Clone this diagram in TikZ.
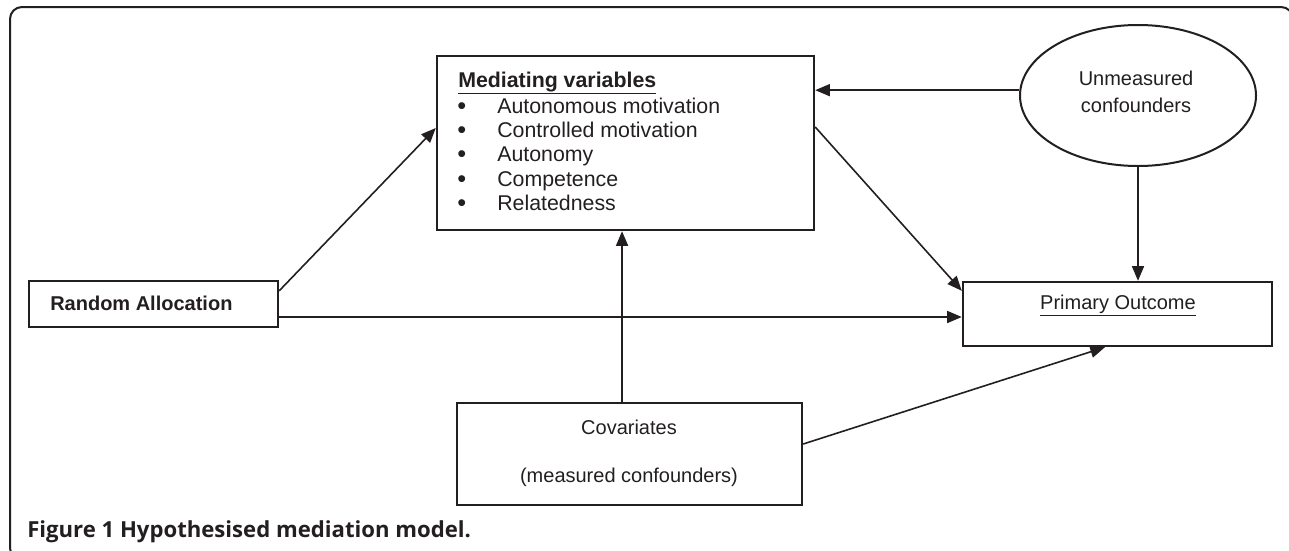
\documentclass[tikz,border=0pt]{standalone}
\usepackage{fontspec}
\setmainfont{Liberation Sans}
\newfontfamily\capfont{Open Sans}
\usetikzlibrary{arrows.meta,shapes.geometric,calc}
\definecolor{ink}{HTML}{231F20}
\begin{document}
\begin{tikzpicture}[x=0.75pt,y=-0.75pt,
  box/.style={draw=ink, line width=1.8pt, rectangle, inner sep=0pt},
  arr/.style={draw=ink, line width=1.2pt, -{Triangle[length=11pt,width=9pt]}},
  txt/.style={inner sep=0pt, text=ink, font=\fontsize{15}{18}\selectfont},
  medtxt/.style={inner sep=0pt, text=ink, anchor=base west, font=\fontsize{16}{19}\selectfont},
]
\useasboundingbox (0,0) rectangle (1289,550);
% frame
\draw[ink, line width=1.5pt, rounded corners=9pt] (24,560) -| (10,7) -| (1293,70);

% boxes
\node[box, minimum width=282.75pt, minimum height=130.5pt] (med) at (625.5,143) {};
\node[box, minimum width=186.75pt, minimum height=34.5pt] (ra) at (153.5,304) {};
\node[box, minimum width=231.75pt, minimum height=48pt] (po) at (1117.5,314) {};
\node[box, minimum width=258.75pt, minimum height=76.5pt] (cov) at (629.5,454) {};
\node[draw=ink, line width=1.5pt, ellipse, inner sep=0pt, minimum width=177pt, minimum height=105.75pt] (uc) at (1138,95.5) {};

% texts
\node[medtxt] (mh) at (458,87) {\bfseries\underline{Mediating variables}};
\foreach \t/\y/\n in {Autonomous motivation/113/i1, Controlled motivation/137/i2, Autonomy/161/i3, Competence/186/i4, Relatedness/210/i5}{
  \node[medtxt, font=\fontsize{19}{19}\selectfont] (b\n) at (457,\y+1) {\textbullet};
  \node[medtxt] (\n) at (497,\y) {\t};
}
\node[txt, anchor=base west] (ratxt) at (50,310) {\bfseries Random Allocation};
\node[txt, anchor=base] (potxt) at (1118,309) {\underline{Primary Outcome}};
\node[txt, anchor=base] (uct1) at (1136,85) {Unmeasured};
\node[txt, anchor=base] (uct2) at (1136,112) {confounders};
\node[txt, anchor=base] (cvt1) at (629,434) {Covariates};
\node[txt, anchor=base] (cvt2) at (629,482) {(measured confounders)};
\node[anchor=base west, inner sep=0pt, text=ink, font=\capfont\bfseries\fontsize{16.6}{18}\selectfont] (cap) at (27,537) {Figure 1 Hypothesised mediation model.};

% connectors
\draw[arr] ([yshift=-8.25pt]ra.north east) -- ([yshift=11.25pt]med.west);
\coordinate (a1) at ([yshift=-9.75pt]ra.east);
\draw[arr] (a1) -- (a1 -| po.west);
\coordinate (u1) at ([yshift=4pt]uc.west);
\draw[arr] (u1) -- (u1 -| med.east);
\draw[arr] ([yshift=12pt]med.east) -- ([yshift=-7.5pt]po.north west);
\draw[arr] (uc.south) -- (uc.south |- po.north);
\coordinate (c1) at ([xshift=-5.6pt]cov.north);
\draw[arr] (c1) -- (c1 |- med.south);
\draw[arr] ([yshift=7.5pt]cov.east) -- ([xshift=-9.4pt]po.south);
\end{tikzpicture}
\end{document}
